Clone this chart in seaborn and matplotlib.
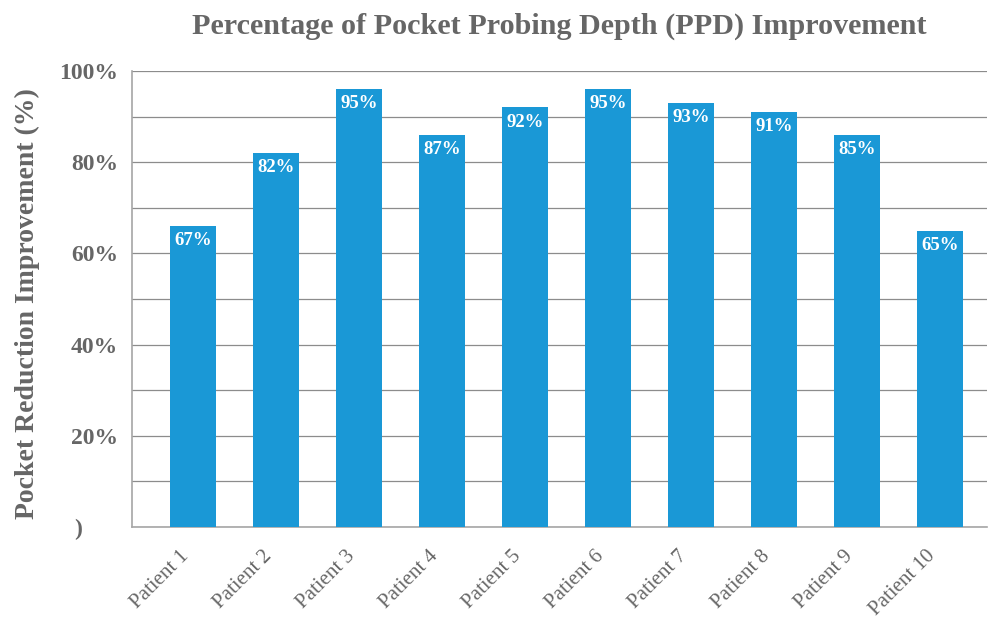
import matplotlib.pyplot as plt
import matplotlib.transforms as mtransforms
import seaborn as sns
from matplotlib.ticker import MultipleLocator

# Datos
patients = ['Patient 1', 'Patient 2', 'Patient 3', 'Patient 4', 'Patient 5',
            'Patient 6', 'Patient 7', 'Patient 8', 'Patient 9', 'Patient 10']
improvement = [66, 82, 96, 86, 92, 96, 93, 91, 86, 65]  # altura de las barras (%)
bar_labels = ['67%', '82%', '95%', '87%', '92%', '95%', '93%', '91%', '85%', '65%']
ytick_values = [0, 20, 40, 60, 80, 100]
ytick_labels = [')      ', '20%', '40%', '60%', '80%', '100%']

bar_color = '#1a98d6'
grey = '#666666'

sns.set_style('white')
plt.rcParams['font.family'] = ['Liberation Serif', 'DejaVu Serif']

fig = plt.figure(figsize=(9.89, 6.19), dpi=100)
ax = fig.add_axes([0.1335, 0.1486, 0.8645, 0.7367])

sns.barplot(x=patients, y=improvement, color=bar_color, width=0.554,
            saturation=1, linewidth=0, ax=ax, zorder=3)

# Etiquetas blancas dentro de cada barra
for i, (h, lbl) in enumerate(zip(improvement, bar_labels)):
    ax.annotate(lbl, (i, h), xytext=(0, -4.5), textcoords='offset points',
                ha='center', va='top', color='white', fontsize=13.5,
                fontweight='bold', zorder=4)

ax.set_xlim(-0.735, 9.57)
ax.set_ylim(0, 100)
ax.set_yticks(ytick_values)
ax.set_yticklabels(ytick_labels)
ax.yaxis.set_minor_locator(MultipleLocator(10))
ax.grid(axis='y', which='both', color='#8c8c8c', linewidth=0.9, zorder=0)
ax.grid(axis='x', visible=False)

for side in ['top', 'right']:
    ax.spines[side].set_visible(False)
for side in ['left', 'bottom']:
    ax.spines[side].set_color('#a6a6a6')
    ax.spines[side].set_linewidth(1.2)

ax.tick_params(axis='y', which='both', length=0, pad=10, labelsize=17,
               labelcolor=grey)
for t in ax.get_yticklabels():
    t.set_fontweight('bold')
ax.tick_params(axis='x', length=0, pad=19, labelsize=15, labelcolor=grey)
shift = mtransforms.ScaledTranslation(-7 / 100, 0, fig.dpi_scale_trans)
for t in ax.get_xticklabels():
    t.set_rotation(45)
    t.set_ha('right')
    t.set_va('center')
    t.set_rotation_mode('anchor')
    t.set_transform(t.get_transform() + shift)

ax.set_xlabel('')
ax.set_ylabel('Pocket Reduction Improvement (%)', fontsize=20,
              fontweight='bold', color=grey)
ax.yaxis.set_label_coords(-0.108, 0.49)
ax.set_title('Percentage of Pocket Probing Depth (PPD) Improvement',
             fontsize=21.7, fontweight='bold', color=grey, pad=27)

fig.savefig('out.png', dpi=100)
